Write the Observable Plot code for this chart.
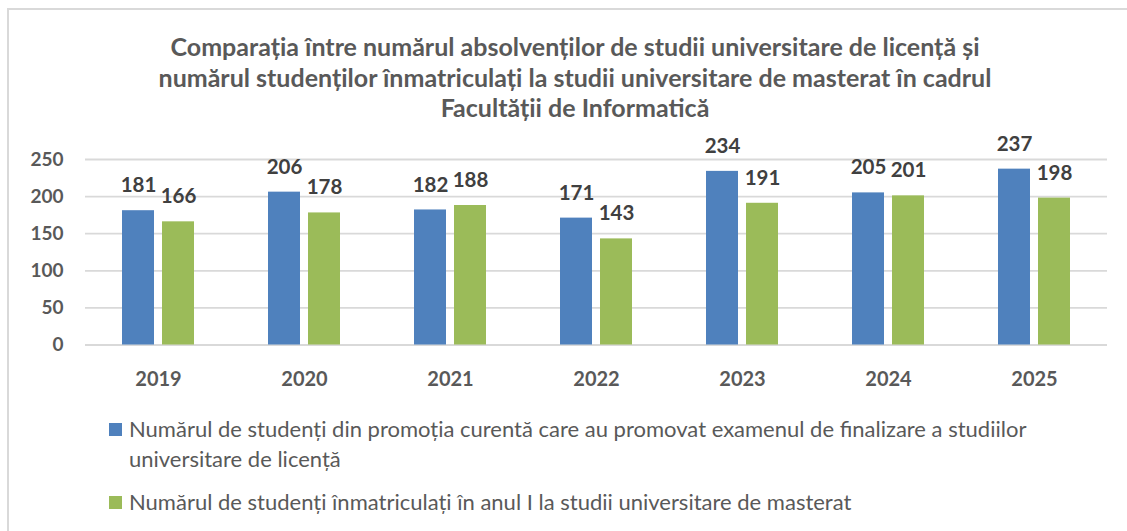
<!DOCTYPE html>
<html>
<head>
<meta charset="utf-8">
<script src="https://cdn.jsdelivr.net/npm/d3@7"></script>
<script src="https://cdn.jsdelivr.net/npm/@observablehq/plot@0.6"></script>
<style>
  html, body { margin: 0; padding: 0; background: #fff; overflow: hidden; }
  body { width: 1127px; height: 531px; position: relative; font-family: Lato, "Open Sans", sans-serif; }
  #frame { position: absolute; left: 7px; top: 8px; width: 1200px; height: 600px; border: 2px solid #d9d9d9; box-sizing: border-box; }
  #title { position: absolute; left: 0; top: 31px; width: 1150px; text-align: center; font-weight: bold; font-size: 25px; line-height: 30.5px; color: #595959; }
  #chart { position: absolute; left: 0; top: 140px; }
  .leg { position: absolute; font-size: 22px; line-height: 30px; color: #595959; white-space: nowrap; }
  .sw { position: absolute; width: 13px; height: 13px; }
</style>
</head>
<body>
<div id="frame"></div>
<div id="title"></div>
<div id="chart"></div>
<div id="legend"></div>
<script>
const titleLines = [
  "Comparația între numărul absolvenților de studii universitare de licență și",
  "numărul studenților înmatriculați la studii universitare de masterat în cadrul",
  "Facultății de Informatică"
];
const years = ["2019", "2020", "2021", "2022", "2023", "2024", "2025"];
const seriesKeys = ["licenta", "masterat"];
const seriesNames = [
  ["Numărul de studenți din promoția curentă care au promovat examenul de finalizare a studiilor", "universitare de licență"],
  ["Numărul de studenți înmatriculați în anul I la studii universitare de masterat"]
];
const licenta = [181, 206, 182, 171, 234, 205, 237];
const masterat = [166, 178, 188, 143, 191, 201, 198];
const yTicks = [0, 50, 100, 150, 200, 250];
const colors = ["#4F81BD", "#9BBB59"];

document.getElementById("title").innerHTML = titleLines.join("<br>");

const rows = [];
years.forEach((yr, i) => {
  rows.push({year: yr, series: seriesKeys[0], value: licenta[i]});
  rows.push({year: yr, series: seriesKeys[1], value: masterat[i]});
});

const chart = Plot.plot({
  width: 1127,
  height: 260,
  marginLeft: 84,
  marginRight: 19,
  marginTop: 19,
  marginBottom: 55.5,
  style: {fontFamily: "Lato, sans-serif", background: "transparent", overflow: "visible"},
  fx: {domain: years, padding: 0, label: null, tickSize: 0, tickPadding: 27},
  x: {domain: seriesKeys, axis: null, paddingInner: 0.2, paddingOuter: 0.9},
  y: {domain: [0, 250], ticks: yTicks, tickSize: 0, tickPadding: 22, label: null},
  color: {domain: seriesKeys, range: colors},
  marks: [
    Plot.ruleY(yTicks, {stroke: "#d9d9d9", strokeWidth: 1.8}),
    Plot.barY(rows, {fx: "year", x: "series", y: "value", fill: "series"}),
    Plot.text(rows, {fx: "year", x: "series", y: "value", text: d => String(d.value), dy: -25,
      fontWeight: "bold", fontSize: 20.5, fill: "#404040"})
  ]
});
document.getElementById("chart").appendChild(chart);

d3.select(chart).selectAll("g[aria-label='y-axis tick label']")
  .attr("fill", "#595959").attr("font-weight", "bold").attr("font-size", 19);
d3.select(chart).selectAll("g[aria-label='fx-axis tick label']")
  .attr("fill", "#595959").attr("font-weight", "bold").attr("font-size", 20);

const legend = document.getElementById("legend");
const legTops = [414, 487];
seriesNames.forEach((lines, i) => {
  const sw = document.createElement("div");
  sw.className = "sw";
  sw.style.background = colors[i];
  sw.style.left = "109px";
  sw.style.top = (legTops[i] + 9) + "px";
  legend.appendChild(sw);
  const t = document.createElement("div");
  t.className = "leg";
  t.style.left = "129px";
  t.style.top = legTops[i] + "px";
  t.innerHTML = lines.join("<br>");
  legend.appendChild(t);
});
</script>
</body>
</html>
